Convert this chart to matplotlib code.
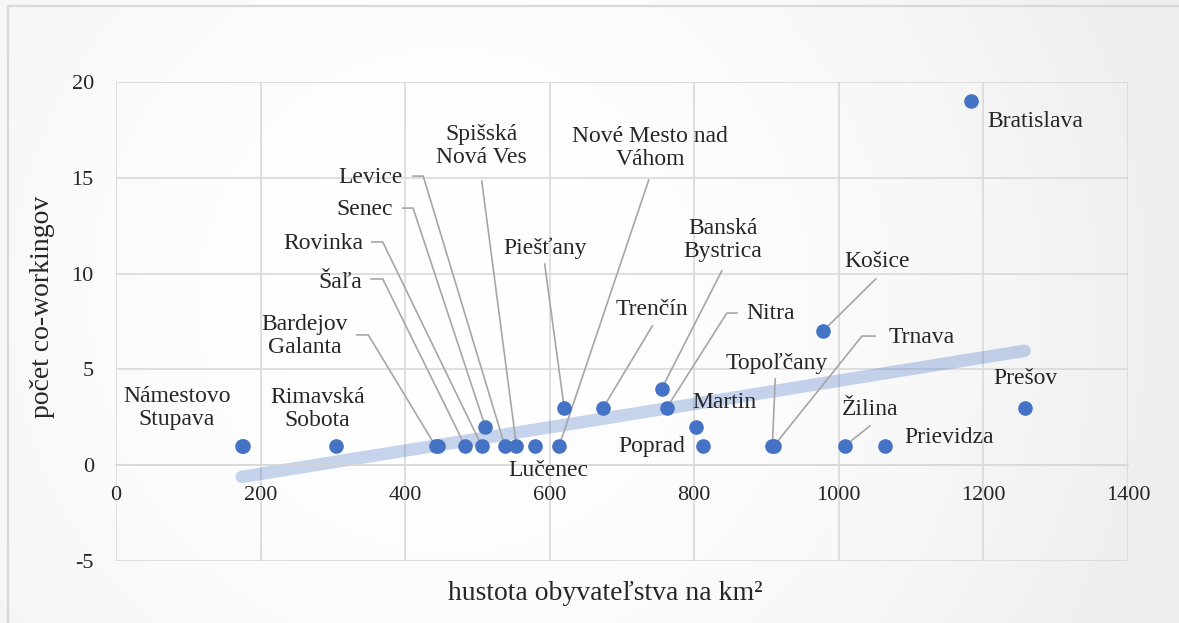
import numpy as np
import matplotlib
matplotlib.use('Agg')
import matplotlib.pyplot as plt
from matplotlib.patches import Rectangle

# ---------------- data ----------------
mesta = ['Námestovo', 'Stupava', 'Rimavská Sobota', 'Bardejov', 'Galanta', 'Šaľa',
         'Rovinka', 'Senec', 'Levice', 'Spišská Nová Ves', 'Lučenec',
         'Nové Mesto nad Váhom', 'Piešťany', 'Trenčín', 'Banská Bystrica', 'Nitra',
         'Martin', 'Poprad', 'Topoľčany', 'Trnava', 'Košice', 'Žilina', 'Prievidza',
         'Bratislava', 'Prešov']
hustota = [174, 176, 305, 442, 446, 483, 506, 511, 538, 554, 579, 613, 620, 674,
           755, 762, 802, 812, 908, 910, 978, 1008, 1064, 1183, 1257]
coworking = [1, 1, 1, 1, 1, 1, 1, 2, 1, 1, 1, 1, 3, 3, 4, 3, 2, 1, 1, 1, 7, 1, 1, 19, 3]

x_ticks = [0, 200, 400, 600, 800, 1000, 1200, 1400]
y_ticks = [-5, 0, 5, 10, 15, 20]

# rozmiestnenie popisov: text, pozicia, zarovnanie, zaciatok vodiacej ciary (None = bez ciary)
labels = {
    'Námestovo': ('Námestovo\nStupava', (84, 2.99), 'center', None),
    'Rimavská Sobota': ('Rimavská\nSobota', (279, 2.93), 'center', None),
    'Bardejov': ('Bardejov\nGalanta', (261, 6.74), 'center', [(333, 6.80), (349, 6.80)]),
    'Šaľa': ('Šaľa', (340, 9.56), 'right', [(353, 9.72), (369, 9.72)]),
    'Rovinka': ('Rovinka', (342, 11.55), 'right', [(354, 11.65), (369, 11.65)]),
    'Senec': ('Senec', (383, 13.32), 'right', [(397, 13.42), (411, 13.42)]),
    'Levice': ('Levice', (397, 15.04), 'right', [(411, 15.09), (425, 15.09)]),
    'Spišská Nová Ves': ('Spišská\nNová Ves', (506, 16.66), 'center', [(506, 14.83)]),
    'Nové Mesto nad Váhom': ('Nové Mesto nad\nVáhom', (739, 16.56), 'center', [(737, 14.89)]),
    'Piešťany': ('Piešťany', (593, 11.34), 'center', [(593, 10.50)]),
    'Trenčín': ('Trenčín', (742, 8.15), 'center', [(742, 7.27)]),
    'Banská Bystrica': ('Banská\nBystrica', (840, 11.75), 'center', [(838, 10.14)]),
    'Nitra': ('Nitra', (872, 7.94), 'left', [(859, 7.94), (845, 7.94)]),
    'Košice': ('Košice', (1053, 10.61), 'center', [(1051, 9.72)]),
    'Trnava': ('Trnava', (1069, 6.69), 'left', [(1050, 6.74), (1032, 6.74)]),
    'Topoľčany': ('Topoľčany', (914, 5.30), 'center', [(912, 4.50)]),
    'Martin': ('Martin', (798, 3.25), 'left', None),
    'Poprad': ('Poprad', (787, 1.0), 'right', None),
    'Lučenec': ('Lučenec', (598, -0.30), 'center', None),
    'Žilina': ('Žilina', (1043, 2.93), 'center', [(1043, 2.05)]),
    'Prievidza': ('Prievidza', (1090, 1.47), 'left', None),
    'Prešov': ('Prešov', (1258, 4.50), 'center', None),
    'Bratislava': ('Bratislava', (1205, 17.96), 'left', None),
}

plt.rcParams['font.family'] = ['Liberation Serif', 'DejaVu Serif']
plt.rcParams['axes.unicode_minus'] = False

W, H = 1179, 623
fig = plt.figure(figsize=(W / 100, H / 100), dpi=100)

# pozadie: jemny radialny prechod + tenky ram
bg = fig.add_axes([0, 0, 1, 1], zorder=-5)
yy, xx = np.mgrid[0:H, 0:W]
r = np.sqrt((xx - 450) ** 2 + (yy - 300) ** 2)
shade = np.clip(1 - 0.06 * (r / 700) ** 2, 0.935, 1)
bg.imshow(np.dstack([shade] * 3), aspect='auto', extent=[0, 1, 0, 1])
bg.set_axis_off()
fig.patches.append(Rectangle((8 / W, -0.02), 1.05, 1.02 - 6 / H, transform=fig.transFigure,
                             fill=False, edgecolor='#d9d9d9', linewidth=1.6))

ax = fig.add_axes([116 / W, 1 - 561 / H, (1128 - 116) / W, (561 - 82) / H])
ax.set_facecolor('none')
ax.set_xlim(0, 1400)
ax.set_ylim(-5, 20)
ax.set_xticks(x_ticks)
ax.set_yticks(y_ticks)
ax.grid(True, color='#d9d9d9', linewidth=1.2)
ax.set_axisbelow(True)
for s in ['top', 'right', 'left']:
    ax.spines[s].set_visible(False)
ax.spines['bottom'].set_position(('data', 0))
ax.spines['bottom'].set_color('#d9d9d9')
ax.spines['bottom'].set_linewidth(1.2)
ax.tick_params(axis='both', length=0, labelsize=16, labelcolor='#262626')
ax.tick_params(axis='x', pad=15)
ax.tick_params(axis='y', pad=16)

# linearny trend
coef = np.polyfit(hustota, coworking, 1)
xs = np.array([min(hustota), max(hustota)])
ax.plot(xs, np.polyval(coef, xs), color='#4472C4', alpha=0.3, linewidth=9,
        solid_capstyle='round', zorder=2)

# vodiace ciary + popisy
for name, (txt, (tx, ty), ha, leader) in labels.items():
    i = mesta.index(name)
    ax.text(tx, ty, txt, ha=ha, va='center', fontsize=17, color='#262626',
            linespacing=1.15, zorder=5)
    if leader is not None:
        pts = leader + [(hustota[i], coworking[i])]
        ax.plot([p[0] for p in pts], [p[1] for p in pts], color='#a6a6a6',
                linewidth=1.2, zorder=3)

ax.plot(hustota, coworking, 'o', color='#4472C4', markersize=9.5, zorder=4)

fig.text(605 / W, 1 - 593 / H, 'hustota obyvateľstva na km²', ha='center', va='center',
         fontsize=20, color='#262626')
fig.text(43 / W, 1 - 307 / H, 'počet co-workingov', ha='center', va='center',
         rotation=90, fontsize=20, color='#262626')

plt.savefig('out.png', dpi=100)
